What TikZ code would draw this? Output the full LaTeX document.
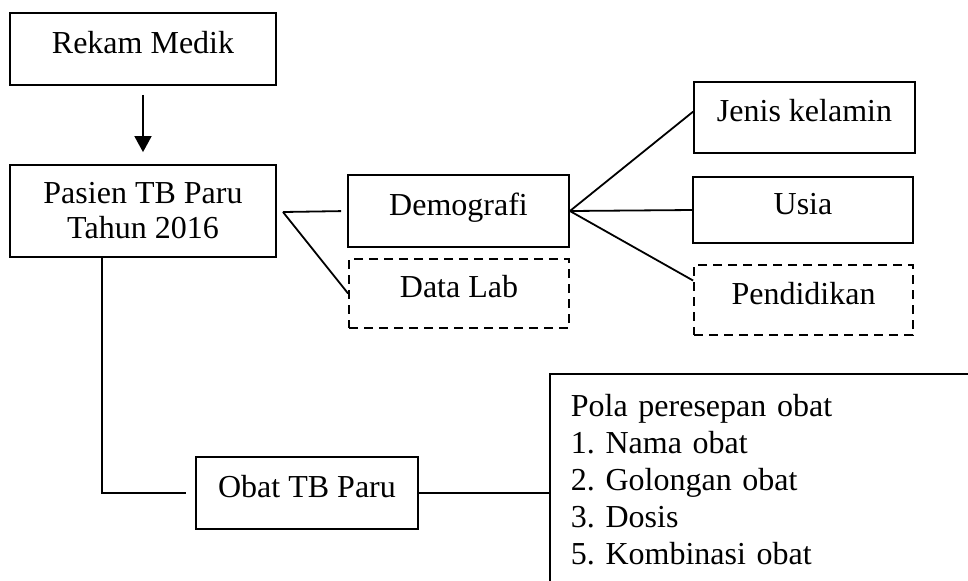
\documentclass[tikz,border=0pt]{standalone}
\usepackage{fontspec}
\setmainfont{Liberation Serif}
\usetikzlibrary{arrows.meta,calc}
\frenchspacing

\tikzset{
	box/.style={draw, line width=0.9pt, inner sep=0pt, align=center, font=\fontsize{16}{17.5}\selectfont},
	onebox/.style={box, text height=10pt, text depth=6pt},
	dashbox/.style={onebox, dash pattern=on 4.5pt off 3pt},
	link/.style={line width=0.9pt}
}

\begin{document}
\begin{tikzpicture}[x=0.5pt, y=-0.5pt]
			%%%%% START %%%%%
			
			\clip (0, 0) rectangle (968, 580);
			
			\node[onebox, minimum width=133pt, minimum height=36pt] (rekam) at (143, 49) {Rekam Medik};
			\node[box, minimum width=133pt, minimum height=46pt] (pasien) at (143, 211) {Pasien TB Paru\\Tahun 2016};
			
			\node[onebox, minimum width=110.5pt, minimum height=36pt] (demografi) at (458.5, 211) {Demografi};
			\node[dashbox, minimum width=110pt, minimum height=34.5pt] (datalab) at (459, 293.5) {Data Lab};
			
			\node[onebox, minimum width=110.5pt, minimum height=35.5pt] (jenis) at (804.5, 117.5) {Jenis kelamin};
			\node[onebox, minimum width=110pt, minimum height=33pt] (usia) at (803, 210) {Usia};
			\node[dashbox, minimum width=109.5pt, minimum height=35pt] (pendidikan) at (803.5, 300) {Pendidikan};
			
			\node[onebox, minimum width=111pt, minimum height=36pt] (obat) at (307, 493) {Obat TB Paru};
			\node[box, anchor=north west, align=left, text width=194.5pt, inner xsep=10.5pt, minimum height=106pt,
				font=\fontsize{16}{18.5}\selectfont] (pola) at (549, 373)
				{Pola peresepan obat\\1. Nama obat\\2. Golongan obat\\3. Dosis\\5. Kombinasi obat};
			
			\coordinate (cabang) at (283, 212);
			
			\draw[link, -{Triangle[length=8pt, width=8.5pt]}, shorten <=4.5pt, shorten >=6pt] (rekam.south) -- (pasien.north);
			
			\draw[link, shorten >=3pt] (cabang) -- (demografi.west);
			\draw[link] (cabang) -- (datalab.west);
			
			\draw[link] (demografi.east) -- (jenis.177);
			\draw[link] (demografi.east) -- (usia.west);
			\draw[link] (demografi.east) -- (pendidikan.170);
			
			\draw[link, shorten >=4.5pt] ($(pasien.south)+(-41, 0)$) |- (obat.west);
			\draw[link] (obat.east) -- (obat.east -| pola.west);
			
			%%%%% END %%%%%
\end{tikzpicture}
\end{document}
